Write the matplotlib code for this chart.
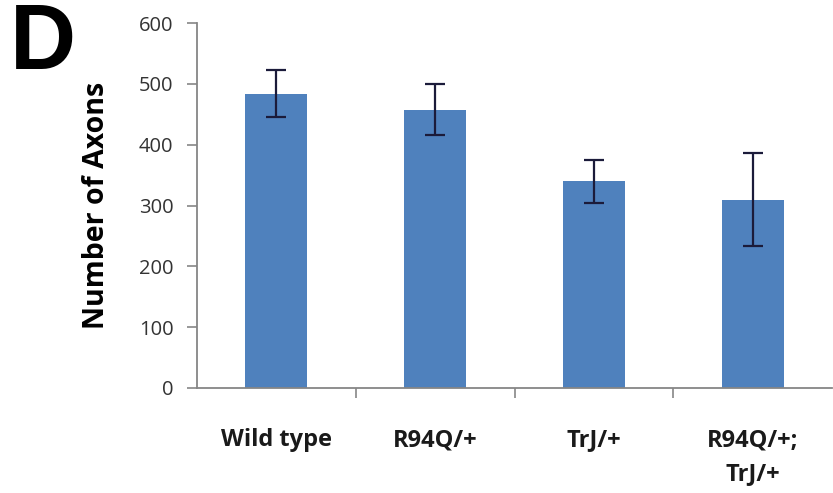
import matplotlib.pyplot as plt
import numpy as np

# genotypes and axon counts (mean +/- error)
genotypes = ['Wild type', 'R94Q/+', 'TrJ/+', 'R94Q/+;\nTrJ/+']
axons = [484, 458, 340, 310]
errors = [39, 42, 35, 76]

plt.rcParams['font.family'] = ['Open Sans', 'DejaVu Sans']

fig = plt.figure(figsize=(8.33, 4.93), dpi=100)
ax = fig.add_axes([0.2365, 0.213, 0.7625, 0.74])

x = np.arange(len(genotypes))
ax.bar(x, axons, width=0.39, color='#4F81BD', zorder=2)
ax.errorbar(x, axons, yerr=errors, fmt='none', ecolor='#1b1b3a',
            elinewidth=1.6, capsize=7, capthick=1.6, zorder=3)

ax.set_xlim(-0.5, len(genotypes) - 0.5)
ax.set_ylim(0, 600)
ax.set_yticks(range(0, 601, 100))

# ticks between categories like excel
ax.set_xticks(x)
ax.set_xticklabels(genotypes, fontsize=17, fontweight='bold', color='#1a1a1a',
                   linespacing=1.55)
ax.tick_params(axis='x', length=0, pad=29)
ax.set_xticks(np.arange(0.5, len(genotypes) - 0.5), minor=True)
ax.tick_params(axis='x', which='minor', length=7, width=1.2, color='#868686', direction='out')
ax.tick_params(axis='y', length=7, width=1.2, color='#868686', labelsize=14.5,
               labelcolor='#333333', pad=10)

for s in ['top', 'right']:
    ax.spines[s].set_visible(False)
for s in ['left', 'bottom']:
    ax.spines[s].set_color('#868686')
    ax.spines[s].set_linewidth(1.3)

ax.set_ylabel('Number of Axons', fontsize=20.5, fontweight='bold', labelpad=20)

fig.text(0.012, 0.995, 'D', fontsize=66, fontweight='bold', va='top', ha='left',
         family='Liberation Sans')

plt.savefig('out.png', dpi=100)
plt.close()
